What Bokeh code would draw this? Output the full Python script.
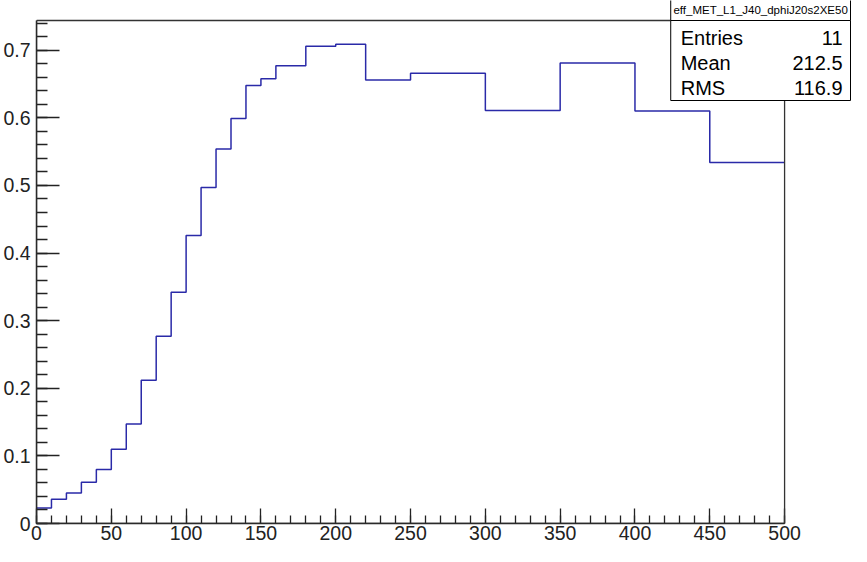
from bokeh.plotting import figure
from bokeh.models import FixedTicker, Range1d, BoxAnnotation, Label
from bokeh.embed import file_html
from bokeh.resources import INLINE

# ---- data ----
bin_edges = [0, 10, 20, 30, 40, 50, 60, 70, 80, 90, 100, 110, 120, 130, 140,
             150, 160, 180, 200, 220, 250, 300, 350, 400, 450, 500]
efficiency = [0.023, 0.036, 0.045, 0.061, 0.080, 0.110, 0.147, 0.212, 0.277,
              0.342, 0.426, 0.497, 0.554, 0.599, 0.648, 0.658, 0.677, 0.706,
              0.709, 0.656, 0.666, 0.611, 0.681, 0.610, 0.534]
x_ticks = [0, 50, 100, 150, 200, 250, 300, 350, 400, 450, 500]
x_tick_labels = ["0", "50", "100", "150", "200", "250", "300", "350", "400", "450", "500"]
y_ticks = [0, 0.1, 0.2, 0.3, 0.4, 0.5, 0.6, 0.7]
y_tick_labels = ["0", "0.1", "0.2", "0.3", "0.4", "0.5", "0.6", "0.7"]
hist_name = "eff_MET_L1_J40_dphiJ20s2XE50"
stat_names = ["Entries", "Mean", "RMS"]
stat_values = ["11", "212.5", "116.9"]

# ---- layout (figure pixels) ----
W, H = 851, 546
L, B = 35, 23            # left / bottom border of the (extended) frame
AX_R, AX_T = 784, 20     # pixel where the histogram frame ends (x=500, y=0.744)
X0, X1 = 0, 500
Y0, Y1 = 0, 0.744
FONT = "Liberation Sans"

xs = (AX_R - L) / (X1 - X0)          # px per x unit
ys = (H - B - AX_T) / (Y1 - Y0)      # px per y unit
x_end = X0 + (W - L) / xs
y_end = Y0 + (H - B) / ys


def fx(px):
    return X0 + (px - L) / xs


def fy(py):
    return Y0 + (H - B - py) / ys


p = figure(width=W, height=H, x_range=Range1d(X0, x_end), y_range=Range1d(Y0, y_end),
           output_backend="svg", toolbar_location=None,
           min_border_left=L, min_border_right=0, min_border_top=0, min_border_bottom=B)
p.grid.visible = False
p.background_fill_color = "white"
p.border_fill_color = "white"
p.outline_line_color = None

# x axis
p.xaxis.bounds = (X0, X1)
p.xaxis.ticker = FixedTicker(ticks=x_ticks, minor_ticks=list(range(0, 501, 10)))
p.xaxis.major_label_overrides = {t: s for t, s in zip(x_ticks, x_tick_labels)}
p.xaxis.major_tick_in = 15
p.xaxis.major_tick_out = 0
p.xaxis.minor_tick_in = 8
p.xaxis.minor_tick_out = 0
p.xaxis.major_label_standoff = 2

# y axis
p.yaxis.bounds = (Y0, Y1)
p.yaxis.ticker = FixedTicker(ticks=y_ticks, minor_ticks=[round(i * 0.02, 2) for i in range(38)])
p.yaxis.major_label_overrides = {t: s for t, s in zip(y_ticks, y_tick_labels)}
p.yaxis.major_tick_in = 23
p.yaxis.major_tick_out = 0
p.yaxis.minor_tick_in = 11
p.yaxis.minor_tick_out = 0
p.yaxis.major_label_standoff = 6

for ax in (p.xaxis, p.yaxis):
    ax.axis_line_color = "#222222"
    ax.axis_line_width = 1.5
    ax.major_tick_line_color = "#222222"
    ax.minor_tick_line_color = "#222222"
    ax.major_tick_line_width = 1.3
    ax.minor_tick_line_width = 1.3
    ax.major_label_text_font = FONT
    ax.major_label_text_font_size = "19.5px"
    ax.major_label_text_color = "#222222"

# histogram frame (top and right edges)
p.add_layout(BoxAnnotation(left=X0, right=X1, bottom=Y0, top=Y1,
                           fill_alpha=0.0, line_color="#333333", line_width=1.3,
                           line_alpha=1.0))

# histogram outline
p.step(x=bin_edges, y=efficiency + [efficiency[-1]], mode="after",
       line_color="#2a2aa8", line_width=1.5)

# stats box
box_l, box_r = fx(670), fx(850)
p.add_layout(BoxAnnotation(left=box_l, right=box_r, top=fy(-2.5), bottom=Y1,
                           fill_color="white", fill_alpha=1.0,
                           line_color="black", line_width=1, line_alpha=1.0))
p.add_layout(BoxAnnotation(left=box_l, right=box_r, top=Y1, bottom=fy(100),
                           fill_color="white", fill_alpha=1.0,
                           line_color="black", line_width=1, line_alpha=1.0))
p.add_layout(Label(x=fx(760), y=fy(9), text=hist_name, text_align="center",
                   text_baseline="middle", text_font=FONT, text_font_size="11.5px",
                   text_color="black"))
for i, (nm, val) in enumerate(zip(stat_names, stat_values)):
    yy = fy(37 + 25 * i)
    p.add_layout(Label(x=fx(680), y=yy, text=nm, text_align="left",
                       text_baseline="middle", text_font=FONT, text_font_size="20px",
                       text_color="black"))
    p.add_layout(Label(x=fx(842), y=yy, text=val, text_align="right",
                       text_baseline="middle", text_font=FONT, text_font_size="20px",
                       text_color="black"))

open("out.html", "w").write(file_html(p, INLINE))
